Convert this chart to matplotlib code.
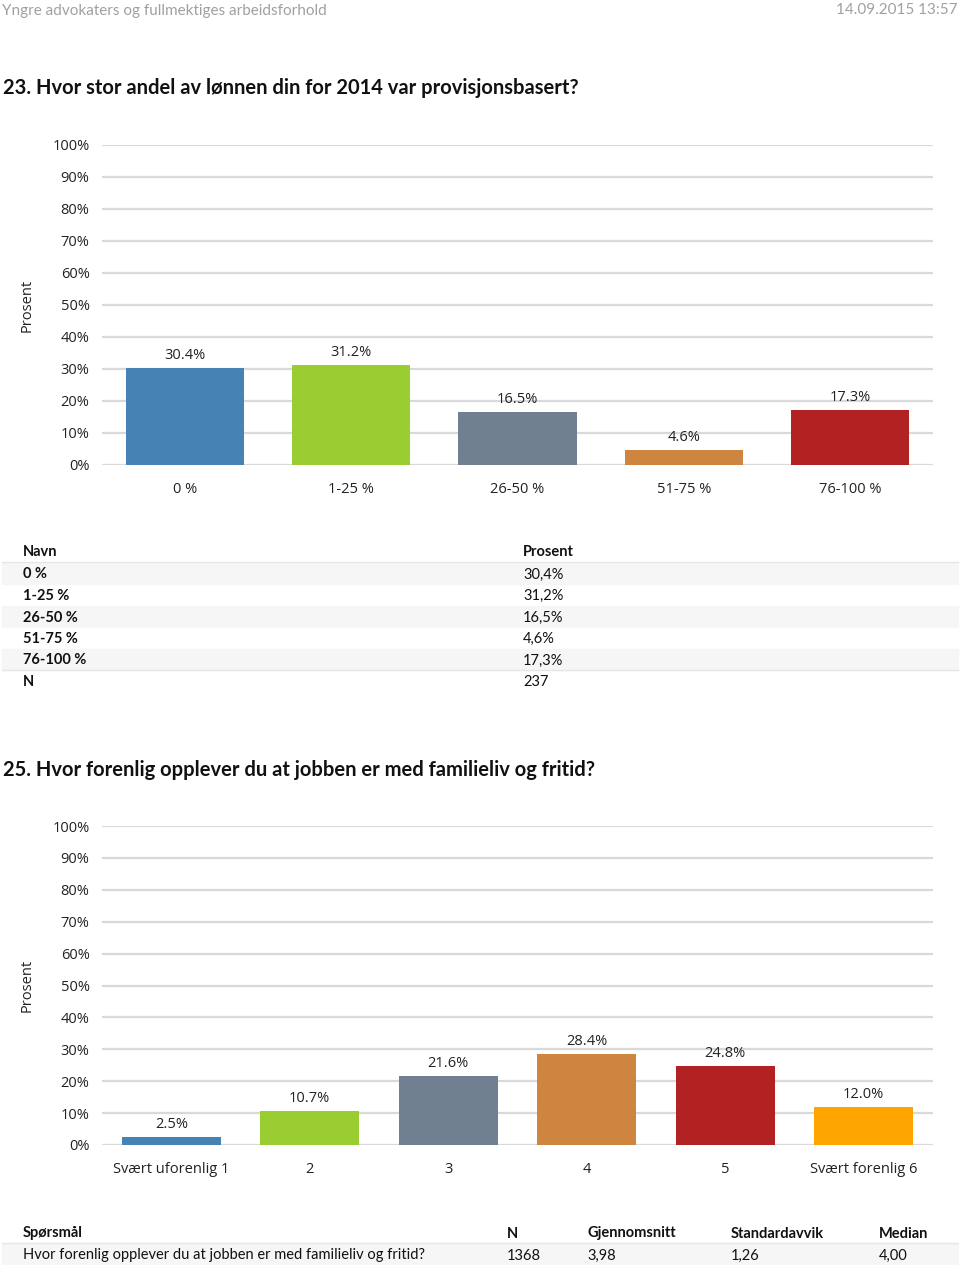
import matplotlib.pyplot as plt
from matplotlib.patches import Rectangle
from matplotlib.ticker import FuncFormatter

# Spørsmål 23
kat_23 = ["0 %", "1-25 %", "26-50 %", "51-75 %", "76-100 %"]
verdi_23 = [30.4, 31.2, 16.5, 4.6, 17.3]
farger_23 = ["#4682b4", "#9acd32", "#708090", "#cd853f", "#b22222"]
tabell_23 = ["30,4%", "31,2%", "16,5%", "4,6%", "17,3%"]
n_23 = "237"

# Spørsmål 25
kat_25 = ["Svært uforenlig 1", "2", "3", "4", "5", "Svært forenlig 6"]
verdi_25 = [2.5, 10.7, 21.6, 28.4, 24.8, 12.0]
farger_25 = ["#4682b4", "#9acd32", "#708090", "#cd853f", "#b22222", "#ffa500"]
kolonner_25 = ["Spørsmål", "N", "Gjennomsnitt", "Standardavvik", "Median"]
rad_25 = ["Hvor forenlig opplever du at jobben er med familieliv og fritid?",
          "1368", "3,98", "1,26", "4,00"]

W, H = 960, 1265
TXT = "Lato"
DIAG = "Open Sans"
DY = 1.5  # va="center" sitter litt høyt

fig = plt.figure(figsize=(W / 100, H / 100), dpi=100)
bg = fig.add_axes([0, 0, 1, 1])
bg.set_xlim(0, W)
bg.set_ylim(H, 0)
bg.axis("off")


def tekst(x, y, s, **kw):
    kw.setdefault("ha", "left")
    kw.setdefault("va", "center")
    kw.setdefault("fontsize", 10.5)
    kw.setdefault("family", TXT)
    kw.setdefault("color", "#111111")
    bg.text(x, y + DY, s, **kw)


def stolpediagram(topp, bunn, kategorier, verdier, farger, bredde):
    ax = fig.add_axes([102 / W, 1 - bunn / H, (933 - 102) / W, (bunn - topp) / H])
    x = range(len(kategorier))
    ax.bar(x, verdier, width=bredde, color=farger, zorder=3)
    for xi, v in zip(x, verdier):
        ax.annotate(f"{v:.1f}%", (xi, v), xytext=(0, 9), textcoords="offset points",
                    ha="center", va="center", fontsize=10.5, family=DIAG, color="#222222")
    ax.set_xlim(-0.5, len(kategorier) - 0.5)
    ax.set_ylim(0, 100)
    ax.set_yticks(range(0, 101, 10))
    ax.yaxis.set_major_formatter(FuncFormatter(lambda v, p: f"{v:.0f}%"))
    ax.set_xticks(list(x))
    ax.set_xticklabels(kategorier, family=DIAG, fontsize=10.5)
    for lab in ax.get_yticklabels():
        lab.set_family(DIAG)
        lab.set_fontsize(10.5)
    ax.tick_params(length=0, pad=9, colors="#222222")
    ax.tick_params(axis="x", pad=12)
    ax.grid(axis="y", color="#d9d9d9", lw=1.6, zorder=0)
    for s in ax.spines.values():
        s.set_visible(False)
    bg.text(27, (topp + bunn) / 2, "Prosent", rotation=90, ha="center", va="center",
            fontsize=10.5, family=DIAG, color="#222222")
    return ax


# topptekst
tekst(2, 9, "Yngre advokaters og fullmektiges arbeidsforhold", fontsize=11, color="#a0a0a0")
tekst(958, 9, "14.09.2015 13:57", ha="right", fontsize=11, color="#a0a0a0")

tekst(3, 87, "23. Hvor stor andel av lønnen din for 2014 var provisjonsbasert?",
      fontsize=14.5, fontweight="bold")
stolpediagram(145, 465, kat_23, verdi_23, farger_23, 0.71)

# tabell 23
tekst(23, 551, "Navn", fontweight="bold")
tekst(523, 551, "Prosent", fontweight="bold")
bg.plot([2, 958], [562, 562], color="#e6e6e6", lw=1)
rad_y = [573, 594.5, 616, 637.5, 659, 680.5]
for i, (navn, pst) in enumerate(zip(kat_23 + ["N"], tabell_23 + [n_23])):
    y = rad_y[i]
    if i % 2 == 0 and i < 5:
        bg.add_patch(Rectangle((2, y - 10.5), 956, 21, color="#f6f6f6", zorder=0))
    tekst(23, y, navn, fontweight="bold")
    tekst(523, y, pst)
bg.plot([2, 958], [669.5, 669.5], color="#e6e6e6", lw=1)

tekst(3, 768, "25. Hvor forenlig opplever du at jobben er med familieliv og fritid?",
      fontsize=14.5, fontweight="bold")
stolpediagram(826, 1145, kat_25, verdi_25, farger_25, 0.715)

# tabell 25
kol_x = [23, 507, 587, 731, 879]
bg.plot([2, 958], [1243, 1243], color="#e6e6e6", lw=1)
bg.add_patch(Rectangle((2, 1244), 956, 21, color="#f6f6f6", zorder=0))
for x, k, r in zip(kol_x, kolonner_25, rad_25):
    tekst(x, 1232, k, fontweight="bold")
    tekst(x, 1254, r)

fig.savefig("out.png", dpi=100)
